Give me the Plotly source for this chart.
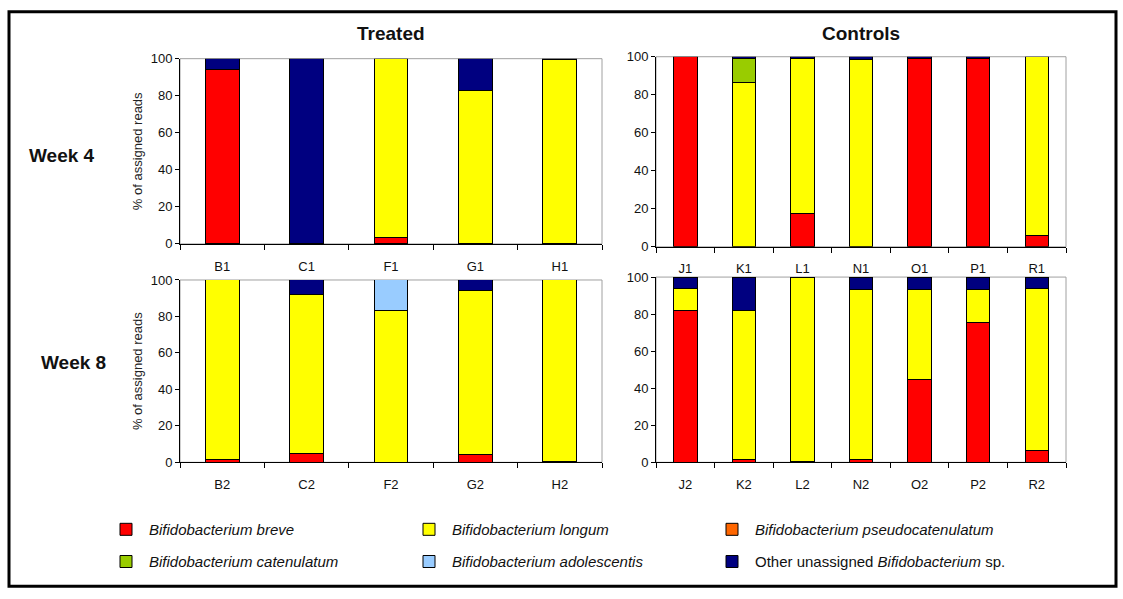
import plotly.graph_objects as go

# ---------------- data ----------------
treated_w4 = ["B1", "C1", "F1", "G1", "H1"]
controls_w4 = ["J1", "K1", "L1", "N1", "O1", "P1", "R1"]
treated_w8 = ["B2", "C2", "F2", "G2", "H2"]
controls_w8 = ["J2", "K2", "L2", "N2", "O2", "P2", "R2"]

species_names = [
    "<i>Bifidobacterium breve</i>",
    "<i>Bifidobacterium longum</i>",
    "<i>Bifidobacterium pseudocatenulatum</i>",
    "<i>Bifidobacterium catenulatum</i>",
    "<i>Bifidobacterium adolescentis</i>",
    "Other unassigned <i>Bifidobacterium</i> sp.",
]
species_colors = ["#FF0000", "#FFFF00", "#FF6600", "#99CC00", "#99CCFF", "#000080"]

# Treated, week 4
breve_t4 = [94.2, None, 3.5, None, None]
longum_t4 = [None, None, 96.5, 83.0, 99.3]
pseudocatenulatum_t4 = [0.0, None, None, None, None]
other_t4 = [5.8, 100.0, None, 17.0, 0.7]

# Controls, week 4
breve_c4 = [100.0, None, 17.5, None, 99.3, 99.3, 6.2]
longum_c4 = [None, 86.4, 81.8, 98.5, None, None, 93.8]
catenulatum_c4 = [None, 12.9, None, None, None, None, None]
other_c4 = [None, 0.7, 0.7, 1.5, 0.7, 0.7, None]

# Treated, week 8
breve_t8 = [1.8, 5.0, None, 4.3, 0.6]
longum_t8 = [98.2, 87.0, 83.0, 90.0, 99.4]
adolescentis_t8 = [None, None, 17.0, None, None]
other_t8 = [None, 8.0, None, 5.7, None]

# Controls, week 8
breve_c8 = [82.2, 1.5, 0.6, 1.5, 44.9, 75.5, 6.5]
longum_c8 = [11.8, 80.7, 99.4, 91.9, 48.5, 17.9, 87.5]
other_c8 = [6.0, 17.8, None, 6.6, 6.6, 6.6, 6.0]

y_ticks = [0, 20, 40, 60, 80, 100]

# ---------------- layout geometry (pixels) ----------------
W, H = 1123, 599
FONT = "Arial, Liberation Sans, sans-serif"


def px_x(p):
    return p / W


def px_y(p):
    return 1 - p / H


panels = [
    dict(ax="", cats=treated_w4, x=(180, 602), y=(53, 243), title=True,
         series={0: breve_t4, 1: longum_t4, 2: pseudocatenulatum_t4, 5: other_t4}),
    dict(ax="2", cats=controls_w4, x=(656, 1066), y=(51, 246), title=False,
         series={0: breve_c4, 1: longum_c4, 3: catenulatum_c4, 5: other_c4}),
    dict(ax="3", cats=treated_w8, x=(180, 602), y=(280, 467), title=True,
         series={0: breve_t8, 1: longum_t8, 4: adolescentis_t8, 5: other_t8}),
    dict(ax="4", cats=controls_w8, x=(656, 1066), y=(277, 467), title=False,
         series={0: breve_c8, 1: longum_c8, 5: other_c8}),
]

fig = go.Figure()
shown = set()
layout_axes = {}
shapes = []

for p in panels:
    xa = "x" + p["ax"]
    ya = "y" + p["ax"]
    for s_idx in range(len(species_names)):
        if s_idx not in p["series"]:
            continue
        vals = p["series"][s_idx]
        xs = [c for c, v in zip(p["cats"], vals) if v is not None]
        ys = [v for v in vals if v is not None]
        show = s_idx not in shown
        shown.add(s_idx)
        fig.add_trace(go.Bar(
            x=xs, y=ys, name=species_names[s_idx],
            marker=dict(color=species_colors[s_idx], line=dict(color="#000000", width=1)),
            xaxis=xa, yaxis=ya, legendgroup=str(s_idx), showlegend=show,
            legend="legend" if s_idx < 3 else "legend2",
            legendrank=s_idx,
        ))
    key = p["ax"]
    layout_axes["xaxis" + key] = dict(
        domain=[px_x(p["x"][0]), px_x(p["x"][1])], anchor=ya,
        type="category", categoryorder="array", categoryarray=p["cats"],
        range=[-0.5, len(p["cats"]) - 0.5],
        showline=True, linecolor="#000000", linewidth=1, mirror=False,
        ticks="outside", tickson="boundaries", ticklen=5, tickcolor="#000000",
        tickfont=dict(size=13, family=FONT, color="#111111"),
        ticklabelstandoff=10, showgrid=False, zeroline=False,
    )
    layout_axes["yaxis" + key] = dict(
        domain=[px_y(p["y"][1]), px_y(p["y"][0])], anchor=xa,
        range=[0, 100], tickvals=y_ticks, ticktext=[str(v) for v in y_ticks],
        showline=True, linecolor="#000000", linewidth=1, mirror=False,
        ticks="outside", ticklen=4, tickcolor="#000000",
        tickfont=dict(size=13, family=FONT, color="#111111"),
        showgrid=False, zeroline=False,
        title=dict(text="% of assigned reads" if p["title"] else "",
                   font=dict(size=13, family=FONT, color="#222222"), standoff=5),
    )
    shapes.append(dict(type="rect", xref=xa + " domain", yref=ya + " domain",
                       x0=0, x1=1, y0=0, y1=1, layer="below",
                       line=dict(color="#A0A0A0", width=1), fillcolor="rgba(0,0,0,0)"))

# outer frame
shapes.append(dict(type="rect", xref="paper", yref="paper",
                   x0=px_x(9), x1=px_x(1116), y0=px_y(594), y1=px_y(5),
                   line=dict(color="#000000", width=3)))

annotations = [
    dict(text="<b>Treated</b>", x=px_x(391), y=px_y(27)),
    dict(text="<b>Controls</b>", x=px_x(861), y=px_y(27)),
    dict(text="<b>Week 4</b>", x=px_x(62), y=px_y(152)),
    dict(text="<b>Week 8</b>", x=px_x(73), y=px_y(365)),
]
for a in annotations:
    a.update(xref="paper", yref="paper", showarrow=False, xanchor="center", yanchor="middle",
             font=dict(size=19, family=FONT, color="#111111"))

legend_common = dict(
    orientation="h", xanchor="left", yanchor="middle", xref="paper", yref="paper",
    entrywidth=252, entrywidthmode="pixels", itemwidth=36,
    font=dict(size=15, family=FONT, color="#111111"), bgcolor="rgba(0,0,0,0)",
    traceorder="normal",
)

fig.update_layout(
    width=W, height=H, margin=dict(l=0, r=0, t=0, b=0),
    paper_bgcolor="#FFFFFF", plot_bgcolor="#FFFFFF",
    barmode="stack", bargap=0.6,
    shapes=shapes, annotations=annotations,
    legend=dict(x=px_x(103), y=px_y(536), **legend_common),
    legend2=dict(x=px_x(103), y=px_y(569), **legend_common),
    font=dict(family=FONT),
    **layout_axes,
)

fig.write_html("out.html", config={"displayModeBar": False},
               post_script="document.body.style.margin='0';")
